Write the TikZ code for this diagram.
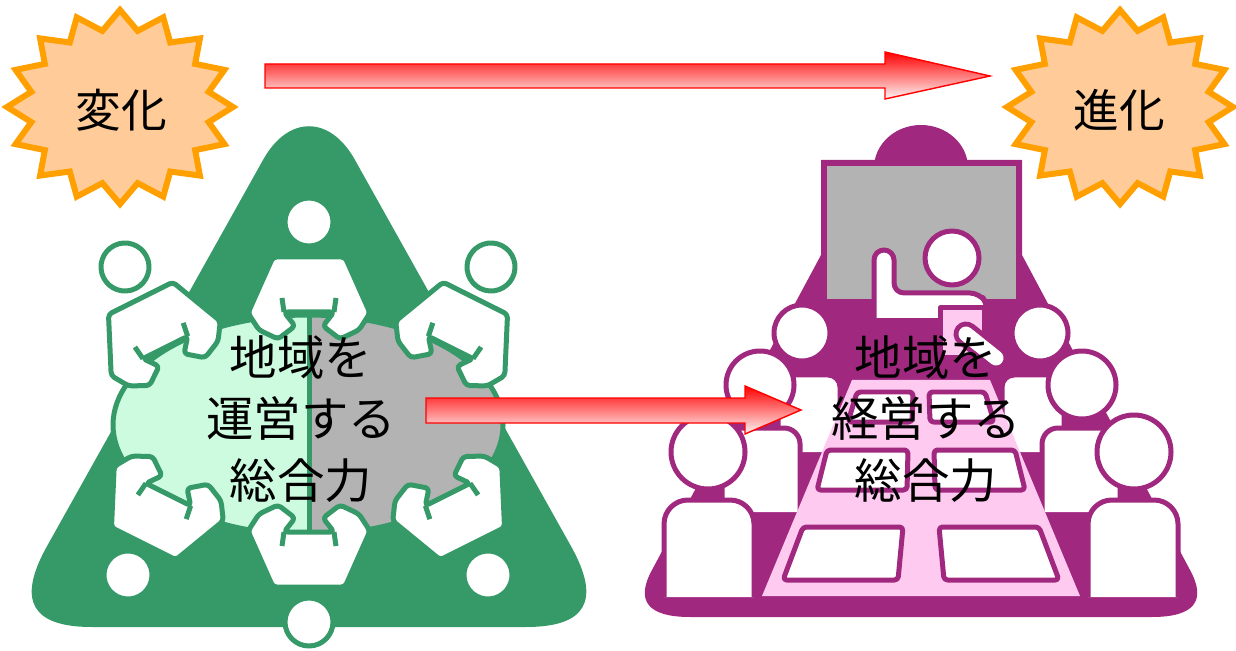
\documentclass[tikz,border=0pt]{standalone}
\usepackage{fontspec}
\newfontfamily\jpfont{Noto Sans CJK JP}

\definecolor{leaf}{HTML}{359A68}
\definecolor{mint}{HTML}{CCFBE0}
\definecolor{screengray}{HTML}{B3B3B3}
\definecolor{plum}{HTML}{A1287F}
\definecolor{blush}{HTML}{FFCAF0}
\definecolor{burstfill}{HTML}{FFCC99}
\definecolor{burstline}{HTML}{FF9F00}

\tikzset{
  leafline/.style={draw=leaf, line width=0.1cm, line join=round},
  plumline/.style={draw=plum, line width=0.1cm, line join=round},
  burst/.style={draw=burstline, fill=burstfill, line width=0.12cm},
  redarrow/.style={draw=red, line width=0.8pt, top color=red, bottom color=red!4},
  bodytext/.style={font=\jpfont\fontsize{27}{35}\selectfont, align=center, inner sep=0pt},
  startext/.style={font=\jpfont\fontsize{26}{30}\selectfont, inner sep=0pt},
  % one person at the round table, head at the origin, facing down
  seat/.pic={
    \draw[leafline, fill=white] (0,0) circle (24);
    \draw[leafline, fill=white, rounded corners=2pt] (-36,35) -- (36,35) -- (61,91) -- (50,108)
      -- (31,117) -- (14,104) -- (25,90) -- (-25,90) -- (-14,104) -- (-31,117) -- (-50,108)
      -- (-61,91) -- cycle;
    \draw[leafline] (27,76) -- (25,90) (-27,76) -- (-25,90);
  }
}

\begin{document}
\begin{tikzpicture}[x=0.02cm, y=-0.02cm]
\useasboundingbox (0,0) rectangle (1236,651);

% bursts
\foreach \cx/\cy in {120/107, 1120/107}
  \draw[burst] ({\cx},{\cy-97}) \foreach \k in {1,...,31}{
      -- ({\cx+(113-22.6*mod(\k,2))*sin(\k*11.25)},{\cy-(97-19.4*mod(\k,2))*cos(\k*11.25)}) } -- cycle;
\node[startext] (henka) at (121,110) {変化};
\node[startext] (shinka) at (1119,110) {進化};

% long arrow
\draw[redarrow] (265,64) -- (885,64) -- (885,52) -- (990,76) -- (885,99) -- (885,88) -- (265,88) -- cycle;

% round table
\fill[leaf] (263,160) .. controls (288,115) and (330,115) .. (355,160) -- (572,548)
  .. controls (601,601) and (586,627) .. (526,627) -- (92,627)
  .. controls (32,627) and (17,601) .. (46,548) -- cycle;
\fill[screengray] (308,425) ellipse [x radius=195, y radius=110];
\begin{scope}
  \clip (0,0) rectangle (308,651);
  \fill[mint] (308,425) ellipse [x radius=195, y radius=110];
\end{scope}
\draw[leafline] (308,425) ellipse [x radius=195, y radius=110];
\draw[leafline] (309,300) -- (309,545);
\foreach \sx/\sy/\turn in {309/222/0, 125/267/26.6, 491/267/-26.6, 128/575/153.4, 488/575/-153.4, 309/622/180}
  \pic[rotate=\turn] at (\sx,\sy) {seat};

% lecture room
\fill[plum] (921,168) ellipse [x radius=47, y radius=43];
\fill[plum] (821,160) -- (1022,160) -- (1022,255) -- (1190,570)
  .. controls (1207,601) and (1194,617) .. (1152,617) -- (690,617)
  .. controls (648,617) and (635,601) .. (652,570) -- (821,255) -- cycle;
\draw[plumline, line width=0.12cm, fill=screengray] (824,163) rectangle (1019,302);
\draw[plumline, fill=white, rounded corners=0.2cm] (874,318) -- (874,250) -- (894,250) -- (894,293)
  -- (980,293) -- (988,306) -- (988,318);
\draw[plumline, fill=white] (952,258) circle (27);
\foreach \hx/\hy/\hr/\bl/\bt/\br/\bb/\rc in {802/333/28/778/375/840/452/0.24cm,
    760/385/34/722/428/800/512/0.32cm, 708/452/37/664/500/754/597/0.48cm}{
  \draw[plumline, fill=white, rounded corners=\rc] (\bl,\bb) -- (\bl,\bt) -- (\br,\bt) -- (\br,\bb);
  \draw[plumline, fill=white] (\hx,\hy) circle (\hr);
  \draw[plumline, fill=white, rounded corners=\rc] ({1842-\bl},\bb) -- ({1842-\bl},\bt) -- ({1842-\br},\bt) -- ({1842-\br},\bb);
  \draw[plumline, fill=white] ({1842-\hx},\hy) circle (\hr);
}
\fill[blush] (852,380) -- (990,380) -- (1080,596) -- (762,596) -- cycle;
\foreach \yt/\yb/\ot/\it/\ib/\ob in {392/422/857/913/912/848, 450/490/827/908/907/817, 527/580/803/903/898/783}{
  \draw[plumline, fill=white, rounded corners=2pt] (\ot,\yt) -- (\it,\yt) -- (\ib,\yb) -- (\ob,\yb) -- cycle;
  \draw[plumline, fill=white, rounded corners=2pt] ({1842-\ot},\yt) -- ({1842-\it},\yt) -- ({1842-\ib},\yb) -- ({1842-\ob},\yb) -- cycle;
}
\draw[plumline, fill=blush] (940,308) rectangle (984,358);
\draw[plum, line width=0.5cm, line cap=round] (966,334) -- (996,358);
\draw[white, line width=0.3cm, line cap=round] (966,334) -- (996,358);

% captions
\node[bodytext] (unei) at (301,419) {地域を\\運営する\\総合力};
\node[bodytext] (keiei) at (926,419) {地域を\\経営する\\総合力};

% short arrow
\draw[redarrow] (426,398) -- (745,398) -- (745,386) -- (801,410) -- (745,434) -- (745,423) -- (426,423) -- cycle;
\end{tikzpicture}
\end{document}
